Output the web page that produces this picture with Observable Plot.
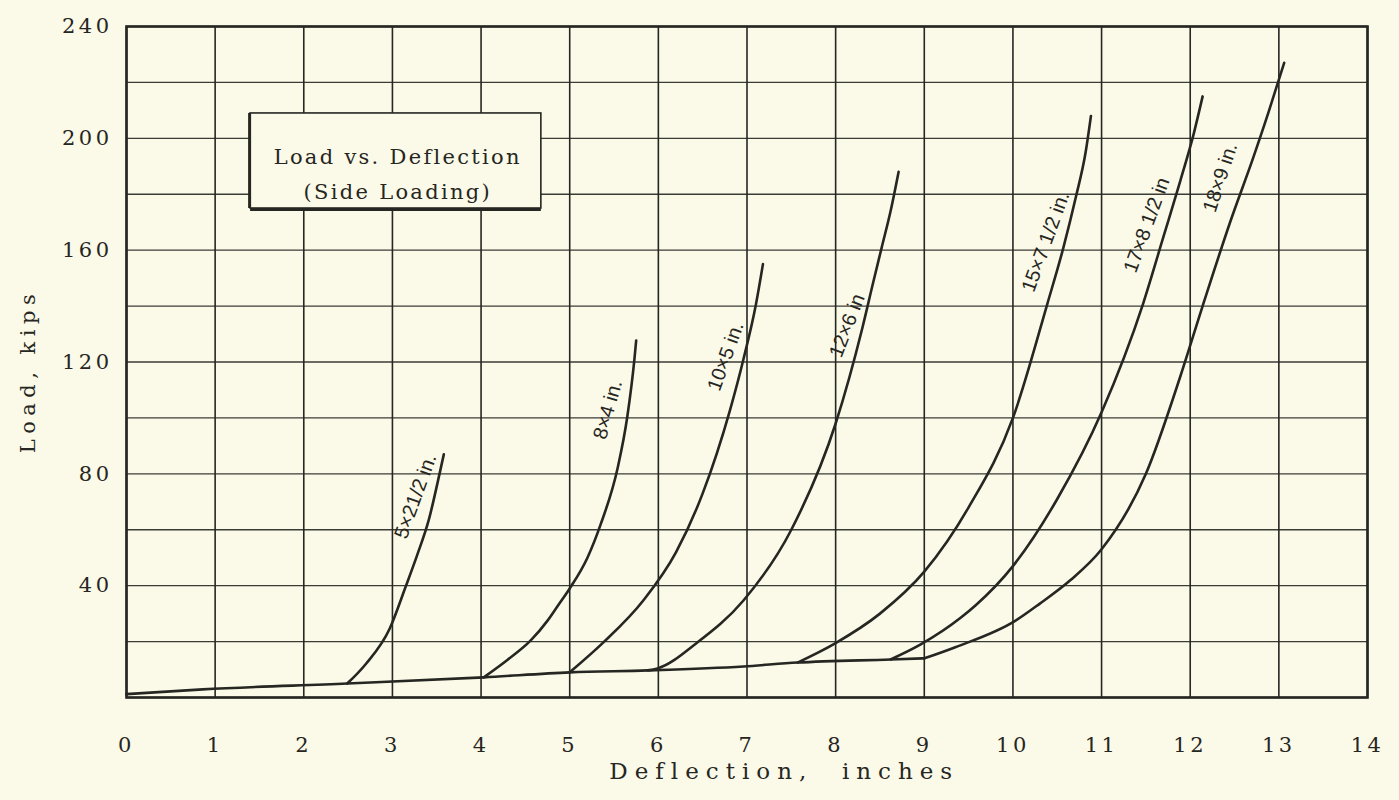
<!DOCTYPE html>
<html>
<head>
<meta charset="utf-8">
<script src="https://cdn.jsdelivr.net/npm/d3@7"></script>
<script src="https://cdn.jsdelivr.net/npm/@observablehq/plot@0.6"></script>
<style>
  html, body { margin: 0; padding: 0; background: #fbfae8; }
  #chart { width: 1399px; height: 800px; }
  g[aria-label="x-axis tick label"] text, g[aria-label="y-axis tick label"] text { letter-spacing: 3.5px; }
</style>
</head>
<body>
<div id="chart"></div>
<script>
// ---- data ----
const xTicks = [0,1,2,3,4,5,6,7,8,9,10,11,12,13,14];
const yTicks = [40,80,120,160,200,240];
const yGrid = [0,20,40,60,80,100,120,140,160,180,200,220,240];

const baseline = [[0,1.2],[0.86,2.9],[2.49,5],[4.03,7.2],[5.0,9],[5.88,9.7],[6.96,11.1],[7.57,12.5],[8.62,13.6],[9.0,14]];
const c5  = [[2.49,5],[2.7,12],[2.97,24.7],[3.15,39.7],[3.28,51],[3.41,63.5],[3.53,79.8],[3.58,87]];
const c8  = [[4.03,7.2],[4.3,13.5],[4.56,20.4],[4.75,27.5],[4.87,33],[5.0,39],[5.2,50],[5.35,62],[5.54,82],[5.65,100.5],[5.73,121],[5.75,127.7]];
const c10 = [[5.0,9],[5.38,19.7],[5.83,34.7],[6.2,52],[6.5,73],[6.81,103],[6.96,121],[7.10,140.5],[7.18,155]];
const c12 = [[5.88,9.7],[5.99,10.4],[6.44,19.7],[6.96,34.7],[7.5,60],[8.0,98],[8.30,132],[8.42,148],[8.52,161],[8.62,174],[8.71,188]];
const c15 = [[7.57,12.5],[7.99,19.3],[8.5,30],[9.0,45],[9.5,68],[10.0,100],[10.39,141],[10.57,161],[10.71,179],[10.82,195],[10.88,208]];
const c17 = [[8.62,13.6],[8.96,19],[9.41,28.5],[9.58,33],[10.0,47],[10.5,71],[11.0,102],[11.47,141],[11.70,165],[11.89,185],[12.04,201.7],[12.14,215]];
const c18 = [[9.0,14],[9.35,18],[10.03,27.5],[10.3,33.5],[10.65,42],[11.0,53],[11.5,80],[11.89,115],[12.14,140],[12.45,170],[12.71,193],[12.88,209],[13.06,227]];

const curveNames = ["5×21/2 in.","8×4 in.","10×5 in.","12×6 in","15×7 1/2 in.","17×8 1/2 in","18×9 in."];
const labelX = [3.26, 5.43, 6.76, 8.13, 10.37, 11.51, 12.34];
const labelY = [72, 103, 122, 133, 163, 169, 186];
const labelAngle = [-70, -74, -70, -69, -70, -70, -72];

const boxX = [1.40, 4.68];
const boxY = [174.9, 208.9];
const boxText = ["Load vs. Deflection", "(Side Loading)"];
const boxTextY = [193.3, 180.6];
const boxTextX = 3.06;
const xTitle = "Deflection,  inches";
const xTitleX = 7.42;
const yTitle = "Load, kips";

// ---- build ----
const curves = [c5,c8,c10,c12,c15,c17,c18];
const lineRows = [];
baseline.forEach(([x,y]) => lineRows.push({x, y, s: "base"}));
curves.forEach((c,i) => c.forEach(([x,y]) => lineRows.push({x, y, s: curveNames[i]})));
const labels = curveNames.map((t,i) => ({t, x: labelX[i], y: labelY[i], a: labelAngle[i]}));

const ink = "#262622";
const bg = "#fbfae8";
const serif = "'DejaVu Serif', 'Liberation Serif', serif";

const chart = Plot.plot({
  width: 1399,
  height: 800,
  marginLeft: 126,
  marginRight: 32,
  marginTop: 26,
  marginBottom: 103,
  style: { background: bg, fontFamily: serif, color: ink },
  x: { domain: [0, 14] },
  y: { domain: [0, 240] },
  marks: [
    Plot.ruleX(xTicks, { stroke: ink, strokeWidth: 1.6 }),
    Plot.ruleY(yGrid, { stroke: ink, strokeWidth: 1.3, strokeOpacity: 0.9 }),
    Plot.frame({ stroke: ink, strokeWidth: 2.6 }),
    Plot.axisX(xTicks, { tickSize: 0, tickPadding: 40, fontSize: 21, label: null, fill: ink }),
    Plot.axisY(yTicks, { tickSize: 0, tickPadding: 14, fontSize: 21, label: null, fill: ink }),
    Plot.text([xTitle], { x: [xTitleX], frameAnchor: "bottom", dy: 81, fontSize: 23, fill: ink }),
    Plot.text([yTitle], { frameAnchor: "left", textAnchor: "middle", dx: -98, dy: 9, rotate: -90, fontSize: 21, fill: ink }),
    Plot.line(lineRows, { x: "x", y: "y", z: "s", curve: "monotone-x", stroke: ink, strokeWidth: 2.6 }),
    Plot.text(labels, { x: "x", y: "y", text: "t", rotate: "a", fontSize: 20, fontFamily: "'Liberation Sans', Arial, sans-serif", fill: ink }),
    // legend box (shadowed border)
    Plot.rect([0], { x1: boxX[0], x2: boxX[1], y1: boxY[0], y2: boxY[1], fill: bg, stroke: ink, strokeWidth: 1.6 }),
    Plot.ruleX([boxX[0]], { y1: boxY[0], y2: boxY[1], stroke: ink, strokeWidth: 3, dx: -1 }),
    Plot.ruleY([boxY[0]], { x1: boxX[0], x2: boxX[1], stroke: ink, strokeWidth: 3, dy: 1 }),
    Plot.text(boxText, { x: boxTextX, y: (d, i) => boxTextY[i], fontSize: 21, fill: ink })
  ]
});
// letter-spacing for the typewriter-like titles
const spacing = new Map([[xTitle, "7px"], [yTitle, "5.5px"], [boxText[0], "2.3px"], [boxText[1], "2.3px"]]);
chart.querySelectorAll("text").forEach(t => {
  const s = spacing.get(t.textContent);
  if (s) t.style.letterSpacing = s;
});
document.getElementById("chart").appendChild(chart);
</script>
</body>
</html>
